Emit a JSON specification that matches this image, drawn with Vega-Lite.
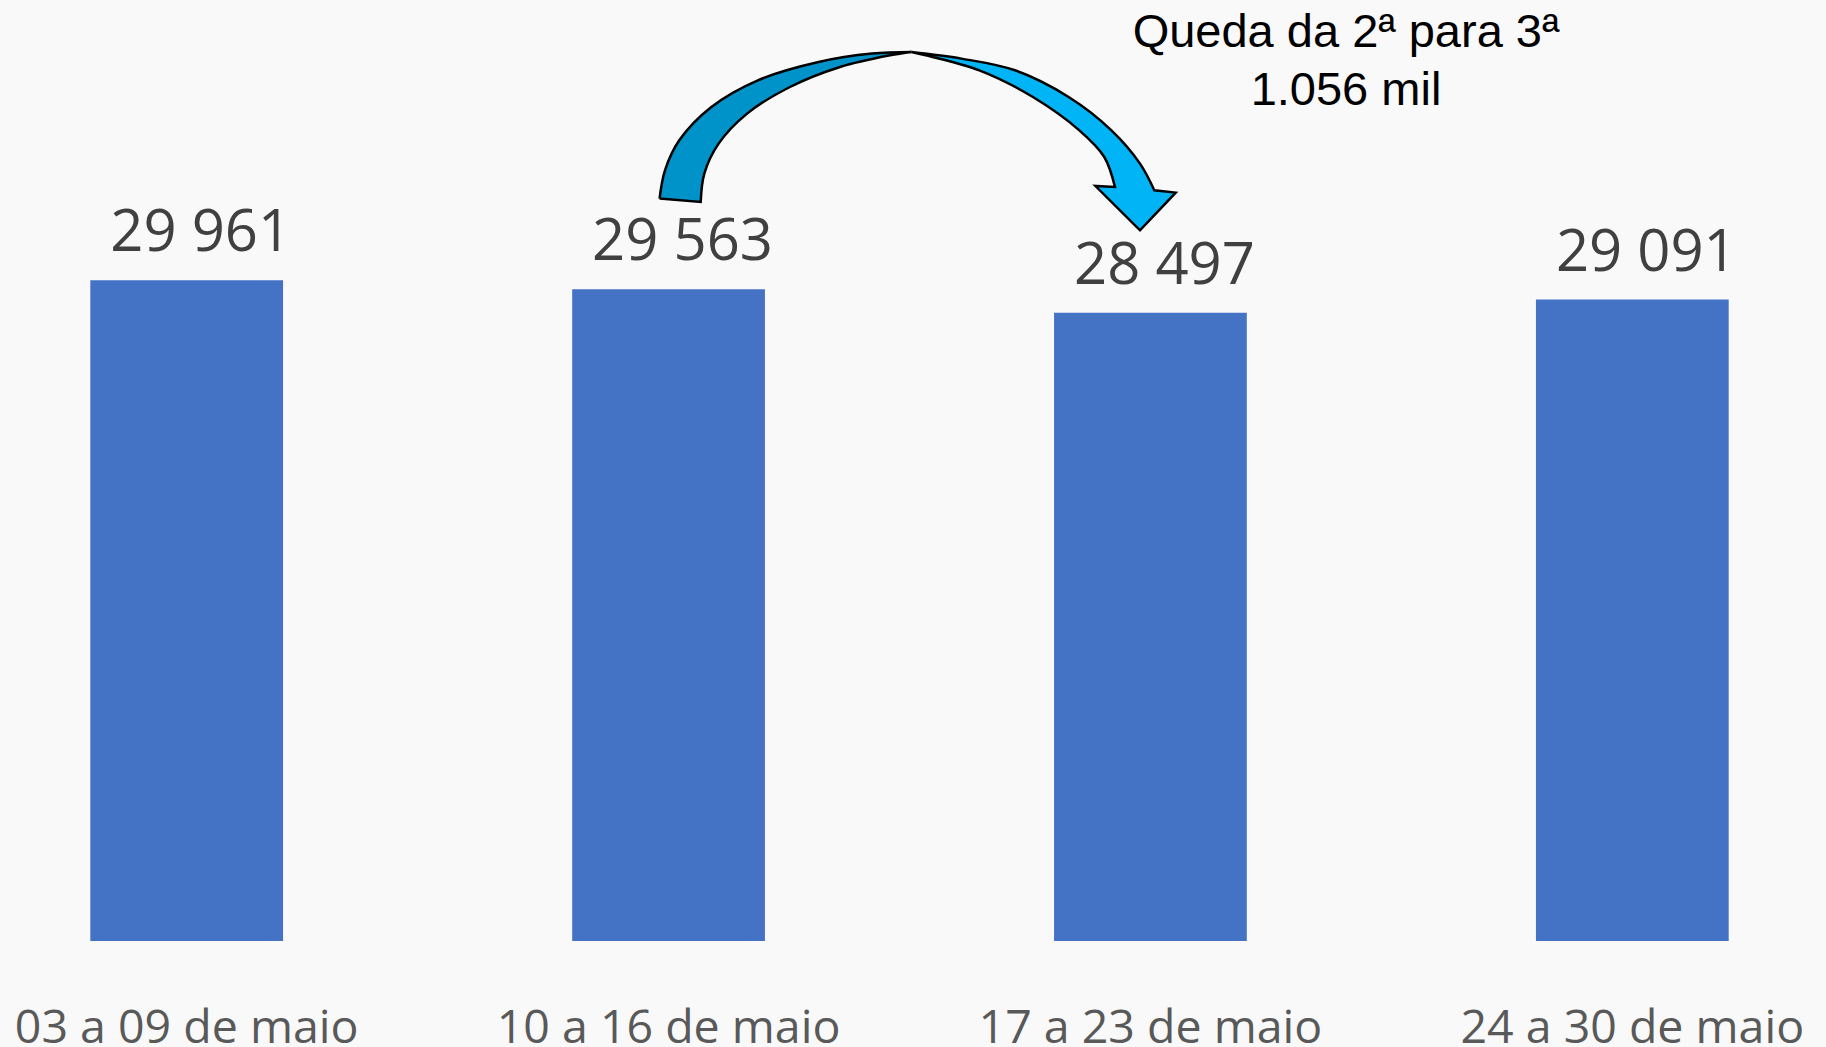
{
  "$schema": "https://vega.github.io/schema/vega-lite/v6.json",
  "width": 1819,
  "height": 941,
  "autosize": {"type": "none"},
  "padding": {"left": 0, "top": 0, "right": 7, "bottom": 106},
  "background": "#f9f9f9",
  "config": {
    "view": {"stroke": null},
    "locale": {"number": {"decimal": ",", "thousands": " ", "grouping": [3], "currency": ["", ""]}}
  },
  "datasets": {
    "bars": [
      {"semana": "03 a 09 de maio", "valor": 29961},
      {"semana": "10 a 16 de maio", "valor": 29563},
      {"semana": "17 a 23 de maio", "valor": 28497},
      {"semana": "24 a 30 de maio", "valor": 29091}
    ],
    "arrow": [
      {"part": "a", "i": 0, "u": 0.9814, "v": 33669},
      {"part": "a", "i": 1, "u": 0.9814, "v": 33669},
      {"part": "a", "i": 2, "u": 0.9926, "v": 34952},
      {"part": "a", "i": 3, "u": 1.0223, "v": 36313},
      {"part": "a", "i": 4, "u": 1.0889, "v": 37823},
      {"part": "a", "i": 5, "u": 1.1854, "v": 39034},
      {"part": "a", "i": 6, "u": 1.3114, "v": 39864},
      {"part": "a", "i": 7, "u": 1.4224, "v": 40245},
      {"part": "a", "i": 8, "u": 1.5039, "v": 40318},
      {"part": "a", "i": 8.5, "u": 1.5039, "v": 40318},
      {"part": "a", "i": 9, "u": 1.4595, "v": 40168},
      {"part": "a", "i": 10, "u": 1.3558, "v": 39637},
      {"part": "a", "i": 11, "u": 1.2520, "v": 38730},
      {"part": "a", "i": 12, "u": 1.1630, "v": 37524},
      {"part": "a", "i": 13, "u": 1.1039, "v": 36163},
      {"part": "a", "i": 14, "u": 1.0742, "v": 34803},
      {"part": "a", "i": 15, "u": 1.0667, "v": 33515},
      {"part": "a", "i": 15.5, "u": 1.0667, "v": 33515},
      {"part": "a", "i": 16, "u": 0.9814, "v": 33669},
      {"part": "a", "i": 17, "u": 0.9814, "v": 33669},
      {"part": "b", "i": 0, "u": 1.5039, "v": 40318},
      {"part": "b", "i": 1, "u": 1.5039, "v": 40318},
      {"part": "b", "i": 2, "u": 1.6077, "v": 40018},
      {"part": "b", "i": 3, "u": 1.7189, "v": 39488},
      {"part": "b", "i": 4, "u": 1.8302, "v": 38277},
      {"part": "b", "i": 5, "u": 1.9190, "v": 36766},
      {"part": "b", "i": 6, "u": 1.9783, "v": 35256},
      {"part": "b", "i": 7, "u": 2.0080, "v": 34045},
      {"part": "b", "i": 7.5, "u": 2.0080, "v": 34045},
      {"part": "b", "i": 8, "u": 2.0524, "v": 33941},
      {"part": "b", "i": 8.5, "u": 2.0524, "v": 33941},
      {"part": "b", "i": 9, "u": 1.9783, "v": 32231},
      {"part": "b", "i": 9.5, "u": 1.9783, "v": 32231},
      {"part": "b", "i": 10, "u": 1.8858, "v": 34240},
      {"part": "b", "i": 10.5, "u": 1.8858, "v": 34240},
      {"part": "b", "i": 11, "u": 1.9264, "v": 34195},
      {"part": "b", "i": 11.5, "u": 1.9264, "v": 34195},
      {"part": "b", "i": 12, "u": 1.9042, "v": 35556},
      {"part": "b", "i": 13, "u": 1.8524, "v": 36766},
      {"part": "b", "i": 14, "u": 1.7561, "v": 38277},
      {"part": "b", "i": 15, "u": 1.6449, "v": 39488},
      {"part": "b", "i": 16, "u": 1.5336, "v": 40168},
      {"part": "b", "i": 17, "u": 1.5039, "v": 40318},
      {"part": "b", "i": 18, "u": 1.5039, "v": 40318}
    ],
    "notes": [
      {"texto": "Queda da 2ª para 3ª", "u": 2.4058, "v": 40531},
      {"texto": "1.056 mil", "u": 2.4058, "v": 37900}
    ]
  },
  "layer": [
    {
      "data": {"name": "bars"},
      "encoding": {
        "x": {
          "field": "semana",
          "type": "nominal",
          "sort": null,
          "scale": {"paddingInner": 0.6, "paddingOuter": 0.1874},
          "axis": {
            "title": null,
            "domain": false,
            "ticks": false,
            "labelAngle": 0,
            "labelFont": "Open Sans",
            "labelFontSize": 46.5,
            "labelColor": "#595959",
            "labelPadding": 64,
            "labelOverlap": false,
            "labelLimit": 0
          }
        },
        "y": {
          "field": "valor",
          "type": "quantitative",
          "scale": {"domain": [0, 42676], "nice": false},
          "axis": null
        }
      },
      "layer": [
        {"mark": {"type": "bar", "color": "#4472c4"}},
        {
          "mark": {
            "type": "text",
            "font": "Open Sans",
            "fontSize": 58,
            "color": "#404040",
            "baseline": "alphabetic",
            "align": "center",
            "dx": 14,
            "dy": -29
          },
          "encoding": {"text": {"field": "valor", "type": "quantitative", "format": ",d"}}
        }
      ]
    },
    {
      "layer": [
        {
          "data": {"name": "arrow"},
          "transform": [{"filter": "datum.part == 'a'"}],
          "mark": {"type": "line", "interpolate": "catmull-rom", "fill": "#0093c9", "stroke": "#000000", "strokeWidth": 2.5, "strokeJoin": "miter"},
          "encoding": {
            "x": {"field": "u", "type": "quantitative", "scale": {"domain": [-0.38732, 3.38732], "nice": false, "zero": false}, "axis": null},
            "y": {"field": "v", "type": "quantitative", "scale": {"domain": [0, 42676], "nice": false}, "axis": null},
            "order": {"field": "i", "type": "quantitative"}
          }
        },
        {
          "data": {"name": "arrow"},
          "transform": [{"filter": "datum.part == 'b'"}],
          "mark": {"type": "line", "interpolate": "catmull-rom", "fill": "#00b4f5", "stroke": "#000000", "strokeWidth": 2.5, "strokeJoin": "miter"},
          "encoding": {
            "x": {"field": "u", "type": "quantitative", "scale": {"domain": [-0.38732, 3.38732], "nice": false, "zero": false}, "axis": null},
            "y": {"field": "v", "type": "quantitative", "scale": {"domain": [0, 42676], "nice": false}, "axis": null},
            "order": {"field": "i", "type": "quantitative"}
          }
        },
        {
          "data": {"name": "notes"},
          "mark": {
            "type": "text",
            "font": "Liberation Sans",
            "fontSize": 47,
            "color": "#000000",
            "align": "center",
            "baseline": "alphabetic"
          },
          "encoding": {
            "x": {"field": "u", "type": "quantitative", "scale": {"domain": [-0.38732, 3.38732], "nice": false, "zero": false}, "axis": null},
            "y": {"field": "v", "type": "quantitative", "scale": {"domain": [0, 42676], "nice": false}, "axis": null},
            "text": {"field": "texto"}
          }
        }
      ]
    }
  ],
  "resolve": {"scale": {"x": "independent"}}
}
